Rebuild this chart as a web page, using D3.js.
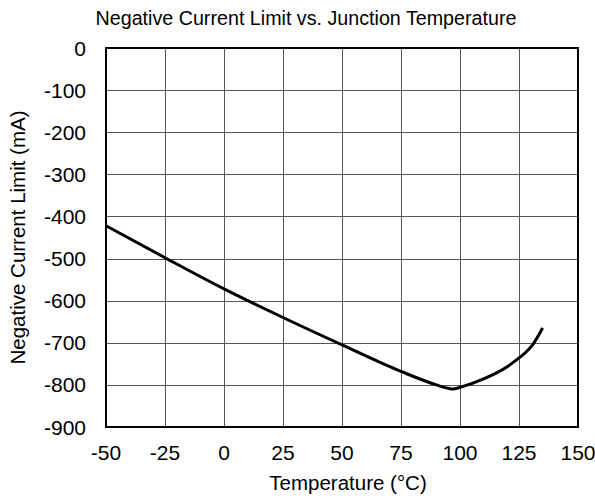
<!DOCTYPE html>
<html><head><meta charset="utf-8">
<script src="https://cdn.jsdelivr.net/npm/d3@7"></script>
<style>body{margin:0;background:#fff}svg{display:block}text{font-family:"Liberation Sans",Arial,sans-serif;fill:#000}</style>
</head><body>
<script>
const temps = [-50,-25,0,25,50,75,90,95,97,100,110,120,125,128,131,135];
const current = [-422,-498,-572,-640,-705,-768,-800,-808,-810,-806,-786,-757,-736,-722,-703,-665];
const xTicks = [-50,-25,0,25,50,75,100,125,150];
const yTicks = [0,-100,-200,-300,-400,-500,-600,-700,-800,-900];

const W=595,H=500, L=106,R=578,T=48,B=427;
const svg=d3.select("body").append("svg").attr("width",W).attr("height",H);
const x=d3.scaleLinear().domain([-50,150]).range([L,R]);
const y=d3.scaleLinear().domain([-900,0]).range([B,T]);

const g=svg.append("g");
g.selectAll(".vx").data(xTicks.slice(1,-1)).enter().append("line")
 .attr("x1",d=>Math.round(x(d))+0.5).attr("x2",d=>Math.round(x(d))+0.5).attr("y1",T).attr("y2",B)
 .attr("stroke","#555").attr("stroke-width",1);
g.selectAll(".hy").data(yTicks.slice(1,-1)).enter().append("line")
 .attr("y1",d=>Math.round(y(d))+0.5).attr("y2",d=>Math.round(y(d))+0.5).attr("x1",L).attr("x2",R)
 .attr("stroke","#555").attr("stroke-width",1);

const line=d3.line().x((d,i)=>x(temps[i])).y(d=>y(d)).curve(d3.curveMonotoneX);
svg.append("path").attr("d",line(current)).attr("fill","none").attr("stroke","#000").attr("stroke-width",3).attr("stroke-linejoin","round");

svg.append("rect").attr("x",L).attr("y",T).attr("width",R-L).attr("height",B-T).attr("fill","none").attr("stroke","#000").attr("stroke-width",2);

svg.append("g").selectAll("text").data(xTicks).enter().append("text")
 .attr("x",d=>x(d)).attr("y",459.5).attr("text-anchor","middle").attr("font-size",21).text(d=>String(d));
svg.append("g").selectAll("text").data(yTicks).enter().append("text")
 .attr("x",86).attr("y",d=>y(d)).attr("dy","0.36em").attr("text-anchor","end").attr("font-size",21).text(d=>String(d));

svg.append("text").attr("x",306).attr("y",25).attr("text-anchor","middle").attr("font-size",19.7).text("Negative Current Limit vs. Junction Temperature");
svg.append("text").attr("x",348).attr("y",490).attr("text-anchor","middle").attr("font-size",20.5).text("Temperature (°C)");
svg.append("text").attr("transform",`translate(25,${(T+B)/2}) rotate(-90)`).attr("text-anchor","middle").attr("font-size",20.5).text("Negative Current Limit (mA)");
</script>
</body></html>
